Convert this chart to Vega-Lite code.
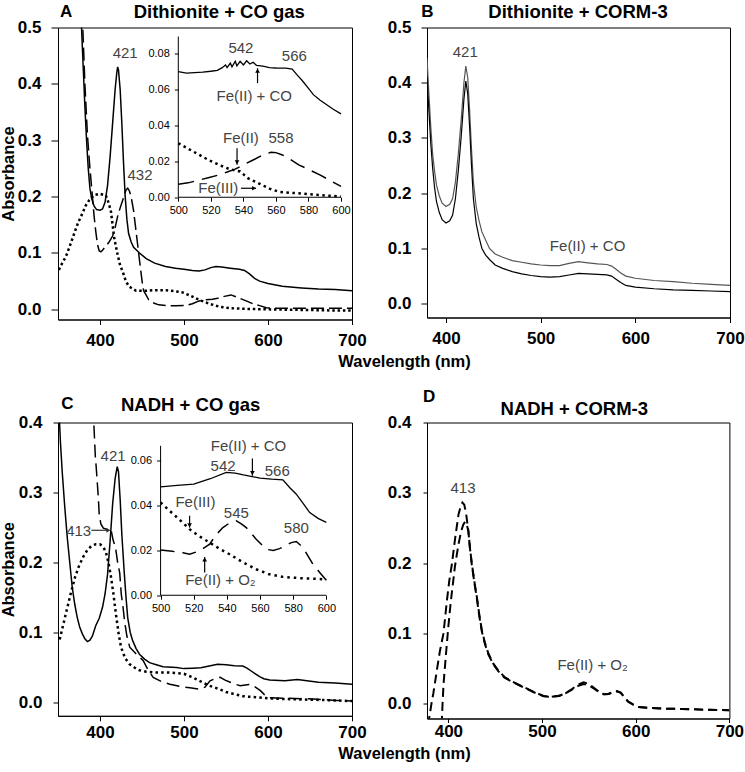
{
"$schema": "https://vega.github.io/schema/vega-lite/v6.json",
"padding": {"left": 0, "top": 1.5, "right": 0, "bottom": 0},
"bounds": "flush",
"columns": 2,
"spacing": {"row": 103, "column": 75},
"config": {
 "font": "Liberation Sans",
 "view": {"stroke": "#000", "strokeWidth": 1},
 "axis": {"grid": false, "domainColor": "#000", "tickColor": "#000", "labelColor": "#000", "titleColor": "#000", "labelFont": "Liberation Sans", "titleFont": "Liberation Sans", "labelFontSize": 17, "labelFontWeight": "bold", "titleFontSize": 16.5, "titleFontWeight": "bold", "tickSize": 6, "labelPadding": 7, "labelFlush": false, "labelOverlap": false}
},
"datasets": {
 "A_main": [
  {"s":"CO","nm":376,"abs":0.56},{"s":"CO","nm":378,"abs":0.5},{"s":"CO","nm":380,"abs":0.43},{"s":"CO","nm":382,"abs":0.36},{"s":"CO","nm":384,"abs":0.3},{"s":"CO","nm":386,"abs":0.25},{"s":"CO","nm":388,"abs":0.215},{"s":"CO","nm":390,"abs":0.197},{"s":"CO","nm":393,"abs":0.183},{"s":"CO","nm":396,"abs":0.177},{"s":"CO","nm":400,"abs":0.176},{"s":"CO","nm":403,"abs":0.178},{"s":"CO","nm":406,"abs":0.19},{"s":"CO","nm":409,"abs":0.22},{"s":"CO","nm":412,"abs":0.27},{"s":"CO","nm":415,"abs":0.33},{"s":"CO","nm":418,"abs":0.39},{"s":"CO","nm":420,"abs":0.42},{"s":"CO","nm":421,"abs":0.43},{"s":"CO","nm":422,"abs":0.425},{"s":"CO","nm":424,"abs":0.39},{"s":"CO","nm":426,"abs":0.33},{"s":"CO","nm":428,"abs":0.26},{"s":"CO","nm":430,"abs":0.2},{"s":"CO","nm":432,"abs":0.16},{"s":"CO","nm":434,"abs":0.135},{"s":"CO","nm":437,"abs":0.12},{"s":"CO","nm":440,"abs":0.11},{"s":"CO","nm":447,"abs":0.1},{"s":"CO","nm":455,"abs":0.09},{"s":"CO","nm":465,"abs":0.082},{"s":"CO","nm":478,"abs":0.076},{"s":"CO","nm":490,"abs":0.073},{"s":"CO","nm":500,"abs":0.071},{"s":"CO","nm":510,"abs":0.069},{"s":"CO","nm":518,"abs":0.068},{"s":"CO","nm":525,"abs":0.07},{"s":"CO","nm":532,"abs":0.074},{"s":"CO","nm":538,"abs":0.076},{"s":"CO","nm":545,"abs":0.075},{"s":"CO","nm":555,"abs":0.073},{"s":"CO","nm":566,"abs":0.071},{"s":"CO","nm":572,"abs":0.069},{"s":"CO","nm":578,"abs":0.063},{"s":"CO","nm":584,"abs":0.055},{"s":"CO","nm":590,"abs":0.05},{"s":"CO","nm":600,"abs":0.046},{"s":"CO","nm":617,"abs":0.041},{"s":"CO","nm":640,"abs":0.038},{"s":"CO","nm":660,"abs":0.036},{"s":"CO","nm":680,"abs":0.035},{"s":"CO","nm":700,"abs":0.033},
  {"s":"FeII","nm":378,"abs":0.56},{"s":"FeII","nm":380,"abs":0.48},{"s":"FeII","nm":382,"abs":0.4},{"s":"FeII","nm":385,"abs":0.31},{"s":"FeII","nm":388,"abs":0.25},{"s":"FeII","nm":391,"abs":0.2},{"s":"FeII","nm":393,"abs":0.165},{"s":"FeII","nm":395,"abs":0.138},{"s":"FeII","nm":397,"abs":0.115},{"s":"FeII","nm":399,"abs":0.104},{"s":"FeII","nm":401,"abs":0.102},{"s":"FeII","nm":403,"abs":0.105},{"s":"FeII","nm":407,"abs":0.112},{"s":"FeII","nm":411,"abs":0.12},{"s":"FeII","nm":415,"abs":0.13},{"s":"FeII","nm":418,"abs":0.145},{"s":"FeII","nm":421,"abs":0.165},{"s":"FeII","nm":424,"abs":0.18},{"s":"FeII","nm":428,"abs":0.198},{"s":"FeII","nm":431,"abs":0.212},{"s":"FeII","nm":433,"abs":0.215},{"s":"FeII","nm":435,"abs":0.21},{"s":"FeII","nm":437,"abs":0.2},{"s":"FeII","nm":440,"abs":0.175},{"s":"FeII","nm":442,"abs":0.15},{"s":"FeII","nm":444,"abs":0.125},{"s":"FeII","nm":446,"abs":0.1},{"s":"FeII","nm":448,"abs":0.075},{"s":"FeII","nm":450.7,"abs":0.043},{"s":"FeII","nm":452,"abs":0.033},{"s":"FeII","nm":454.8,"abs":0.0256},{"s":"FeII","nm":458,"abs":0.017},{"s":"FeII","nm":464.6,"abs":0.0107},{"s":"FeII","nm":470,"abs":0.008},{"s":"FeII","nm":478.6,"abs":0.0066},{"s":"FeII","nm":490,"abs":0.0066},{"s":"FeII","nm":502,"abs":0.0068},{"s":"FeII","nm":510,"abs":0.01},{"s":"FeII","nm":518,"abs":0.015},{"s":"FeII","nm":526,"abs":0.017},{"s":"FeII","nm":534,"abs":0.018},{"s":"FeII","nm":540,"abs":0.0195},{"s":"FeII","nm":548,"abs":0.023},{"s":"FeII","nm":556,"abs":0.0256},{"s":"FeII","nm":564,"abs":0.021},{"s":"FeII","nm":574,"abs":0.015},{"s":"FeII","nm":582,"abs":0.01},{"s":"FeII","nm":590,"abs":0.0066},{"s":"FeII","nm":598,"abs":0.003},{"s":"FeII","nm":606,"abs":0.002},{"s":"FeII","nm":620,"abs":0.002},{"s":"FeII","nm":650,"abs":0.002},{"s":"FeII","nm":680,"abs":0.002},{"s":"FeII","nm":700,"abs":0.002},
  {"s":"FeIII","nm":351,"abs":0.07},{"s":"FeIII","nm":355,"abs":0.082},{"s":"FeIII","nm":359.5,"abs":0.094},{"s":"FeIII","nm":364,"abs":0.112},{"s":"FeIII","nm":369.4,"abs":0.135},{"s":"FeIII","nm":374,"abs":0.154},{"s":"FeIII","nm":379.3,"abs":0.171},{"s":"FeIII","nm":383,"abs":0.184},{"s":"FeIII","nm":387.3,"abs":0.194},{"s":"FeIII","nm":393.2,"abs":0.203},{"s":"FeIII","nm":400,"abs":0.205},{"s":"FeIII","nm":407,"abs":0.202},{"s":"FeIII","nm":410,"abs":0.19},{"s":"FeIII","nm":413,"abs":0.174},{"s":"FeIII","nm":415,"abs":0.15},{"s":"FeIII","nm":417,"abs":0.126},{"s":"FeIII","nm":421,"abs":0.097},{"s":"FeIII","nm":424,"abs":0.078},{"s":"FeIII","nm":427,"abs":0.067},{"s":"FeIII","nm":431,"abs":0.049},{"s":"FeIII","nm":435,"abs":0.04},{"s":"FeIII","nm":443,"abs":0.033},{"s":"FeIII","nm":455,"abs":0.033},{"s":"FeIII","nm":465,"abs":0.034},{"s":"FeIII","nm":478.6,"abs":0.034},{"s":"FeIII","nm":490,"abs":0.032},{"s":"FeIII","nm":498.3,"abs":0.03},{"s":"FeIII","nm":508,"abs":0.024},{"s":"FeIII","nm":518.2,"abs":0.0167},{"s":"FeIII","nm":530,"abs":0.01},{"s":"FeIII","nm":542,"abs":0.0048},{"s":"FeIII","nm":555,"abs":0.002},{"s":"FeIII","nm":577.7,"abs":0.0007},{"s":"FeIII","nm":600,"abs":0.0},{"s":"FeIII","nm":640,"abs":-0.001},{"s":"FeIII","nm":680,"abs":-0.002},{"s":"FeIII","nm":700,"abs":-0.002}
 ],
 "A_inset": [
  {"s":"CO","nm":500,"abs":0.0698},{"s":"CO","nm":505,"abs":0.069},{"s":"CO","nm":510,"abs":0.0692},{"s":"CO","nm":515,"abs":0.0695},{"s":"CO","nm":520,"abs":0.07},{"s":"CO","nm":524,"abs":0.0705},{"s":"CO","nm":527,"abs":0.072},{"s":"CO","nm":529,"abs":0.0735},{"s":"CO","nm":530,"abs":0.072},{"s":"CO","nm":532,"abs":0.0745},{"s":"CO","nm":533,"abs":0.0725},{"s":"CO","nm":535,"abs":0.0755},{"s":"CO","nm":536,"abs":0.073},{"s":"CO","nm":538,"abs":0.0755},{"s":"CO","nm":540,"abs":0.0735},{"s":"CO","nm":542,"abs":0.0758},{"s":"CO","nm":544,"abs":0.074},{"s":"CO","nm":546,"abs":0.075},{"s":"CO","nm":548,"abs":0.0733},{"s":"CO","nm":552,"abs":0.0728},{"s":"CO","nm":556,"abs":0.072},{"s":"CO","nm":560,"abs":0.0718},{"s":"CO","nm":566,"abs":0.0717},{"s":"CO","nm":570,"abs":0.0712},{"s":"CO","nm":573,"abs":0.068},{"s":"CO","nm":576,"abs":0.065},{"s":"CO","nm":580,"abs":0.0605},{"s":"CO","nm":583,"abs":0.057},{"s":"CO","nm":587,"abs":0.054},{"s":"CO","nm":591,"abs":0.0515},{"s":"CO","nm":595,"abs":0.049},{"s":"CO","nm":600,"abs":0.0463},
  {"s":"FeII","nm":500,"abs":0.0072},{"s":"FeII","nm":506,"abs":0.008},{"s":"FeII","nm":513,"abs":0.0096},{"s":"FeII","nm":519,"abs":0.011},{"s":"FeII","nm":525,"abs":0.0124},{"s":"FeII","nm":530,"abs":0.014},{"s":"FeII","nm":535,"abs":0.0156},{"s":"FeII","nm":540,"abs":0.018},{"s":"FeII","nm":546,"abs":0.0207},{"s":"FeII","nm":552,"abs":0.0235},{"s":"FeII","nm":557,"abs":0.025},{"s":"FeII","nm":560,"abs":0.0248},{"s":"FeII","nm":564,"abs":0.0235},{"s":"FeII","nm":569,"abs":0.021},{"s":"FeII","nm":574,"abs":0.018},{"s":"FeII","nm":580,"abs":0.0155},{"s":"FeII","nm":587,"abs":0.0124},{"s":"FeII","nm":594,"abs":0.009},{"s":"FeII","nm":600,"abs":0.006},
  {"s":"FeIII","nm":500,"abs":0.03},{"s":"FeIII","nm":506,"abs":0.027},{"s":"FeIII","nm":513,"abs":0.0235},{"s":"FeIII","nm":519,"abs":0.0205},{"s":"FeIII","nm":525,"abs":0.018},{"s":"FeIII","nm":531,"abs":0.0158},{"s":"FeIII","nm":538,"abs":0.0143},{"s":"FeIII","nm":543,"abs":0.0105},{"s":"FeIII","nm":550,"abs":0.0075},{"s":"FeIII","nm":556,"abs":0.0048},{"s":"FeIII","nm":562,"abs":0.003},{"s":"FeIII","nm":568,"abs":0.0025},{"s":"FeIII","nm":574,"abs":0.0022},{"s":"FeIII","nm":580,"abs":0.0018},{"s":"FeIII","nm":590,"abs":0.001},{"s":"FeIII","nm":600,"abs":0.0004}
 ],
 "A_text": [{"nm":430,"abs":0.455,"label":"421"},{"nm":447.6,"abs":0.239,"label":"432"}],
 "A_itext": [{"nm":538.5,"abs":0.0828,"label":"542"},{"nm":571.3,"abs":0.0787,"label":"566"},{"nm":546.7,"abs":0.056,"label":"Fe(II) + CO"},{"nm":538.5,"abs":0.0328,"label":"Fe(II)"},{"nm":563.1,"abs":0.0328,"label":"558"},{"nm":524.6,"abs":0.005,"label":"Fe(III)"}],
 "A_iarrows": [{"nm":548.7,"nm2":548.7,"abs":0.0634,"abs2":0.0717,"hx":548.7,"hy":0.0703,"head":"triangle-up"},{"nm":536.1,"nm2":536.1,"abs":0.0272,"abs2":0.018,"hx":536.1,"hy":0.0194,"head":"triangle-down"},{"nm":538.5,"nm2":547.8,"abs":0.005,"abs2":0.005,"hx":546.6,"hy":0.005,"head":"triangle-right"}],
 "B": [
  {"s":"up","nm":380,"abs":0.445},{"s":"up","nm":382,"abs":0.38},{"s":"up","nm":384,"abs":0.32},{"s":"up","nm":386,"abs":0.27},{"s":"up","nm":388,"abs":0.24},{"s":"up","nm":390,"abs":0.215},{"s":"up","nm":393,"abs":0.195},{"s":"up","nm":396,"abs":0.182},{"s":"up","nm":400,"abs":0.176},{"s":"up","nm":404,"abs":0.18},{"s":"up","nm":407,"abs":0.19},{"s":"up","nm":410,"abs":0.22},{"s":"up","nm":413,"abs":0.27},{"s":"up","nm":416,"abs":0.33},{"s":"up","nm":419,"abs":0.4},{"s":"up","nm":421,"abs":0.43},{"s":"up","nm":423,"abs":0.41},{"s":"up","nm":425,"abs":0.35},{"s":"up","nm":427,"abs":0.28},{"s":"up","nm":429,"abs":0.22},{"s":"up","nm":432,"abs":0.175},{"s":"up","nm":435,"abs":0.15},{"s":"up","nm":438,"abs":0.13},{"s":"up","nm":442,"abs":0.115},{"s":"up","nm":446,"abs":0.1},{"s":"up","nm":452,"abs":0.09},{"s":"up","nm":460,"abs":0.084},{"s":"up","nm":470,"abs":0.078},{"s":"up","nm":480,"abs":0.075},{"s":"up","nm":490,"abs":0.072},{"s":"up","nm":500,"abs":0.07},{"s":"up","nm":510,"abs":0.069},{"s":"up","nm":520,"abs":0.069},{"s":"up","nm":530,"abs":0.073},{"s":"up","nm":540,"abs":0.076},{"s":"up","nm":550,"abs":0.074},{"s":"up","nm":560,"abs":0.072},{"s":"up","nm":570,"abs":0.071},{"s":"up","nm":575,"abs":0.068},{"s":"up","nm":580,"abs":0.062},{"s":"up","nm":585,"abs":0.055},{"s":"up","nm":590,"abs":0.05},{"s":"up","nm":600,"abs":0.046},{"s":"up","nm":620,"abs":0.042},{"s":"up","nm":640,"abs":0.04},{"s":"up","nm":660,"abs":0.037},{"s":"up","nm":680,"abs":0.035},{"s":"up","nm":700,"abs":0.033},
  {"s":"lo","nm":380,"abs":0.41},{"s":"lo","nm":382,"abs":0.35},{"s":"lo","nm":384,"abs":0.29},{"s":"lo","nm":386,"abs":0.245},{"s":"lo","nm":388,"abs":0.21},{"s":"lo","nm":390,"abs":0.185},{"s":"lo","nm":393,"abs":0.165},{"s":"lo","nm":396,"abs":0.152},{"s":"lo","nm":400,"abs":0.146},{"s":"lo","nm":404,"abs":0.15},{"s":"lo","nm":407,"abs":0.16},{"s":"lo","nm":410,"abs":0.19},{"s":"lo","nm":413,"abs":0.24},{"s":"lo","nm":416,"abs":0.3},{"s":"lo","nm":419,"abs":0.37},{"s":"lo","nm":421,"abs":0.403},{"s":"lo","nm":423,"abs":0.38},{"s":"lo","nm":425,"abs":0.32},{"s":"lo","nm":427,"abs":0.25},{"s":"lo","nm":429,"abs":0.19},{"s":"lo","nm":432,"abs":0.145},{"s":"lo","nm":435,"abs":0.12},{"s":"lo","nm":438,"abs":0.1},{"s":"lo","nm":442,"abs":0.088},{"s":"lo","nm":446,"abs":0.08},{"s":"lo","nm":452,"abs":0.07},{"s":"lo","nm":460,"abs":0.064},{"s":"lo","nm":470,"abs":0.058},{"s":"lo","nm":480,"abs":0.054},{"s":"lo","nm":490,"abs":0.051},{"s":"lo","nm":500,"abs":0.049},{"s":"lo","nm":510,"abs":0.048},{"s":"lo","nm":520,"abs":0.049},{"s":"lo","nm":530,"abs":0.052},{"s":"lo","nm":540,"abs":0.055},{"s":"lo","nm":550,"abs":0.054},{"s":"lo","nm":560,"abs":0.053},{"s":"lo","nm":570,"abs":0.052},{"s":"lo","nm":575,"abs":0.05},{"s":"lo","nm":580,"abs":0.044},{"s":"lo","nm":585,"abs":0.038},{"s":"lo","nm":590,"abs":0.033},{"s":"lo","nm":600,"abs":0.03},{"s":"lo","nm":620,"abs":0.027},{"s":"lo","nm":640,"abs":0.025},{"s":"lo","nm":660,"abs":0.024},{"s":"lo","nm":680,"abs":0.023},{"s":"lo","nm":700,"abs":0.022}
 ],
 "B_text": [{"nm":420.4,"abs":0.455,"label":"421"},{"nm":549.6,"abs":0.104,"label":"Fe(II) + CO"}],
 "C_main": [
  {"s":"CO","nm":351,"abs":0.42},{"s":"CO","nm":353,"abs":0.37},{"s":"CO","nm":355,"abs":0.33},{"s":"CO","nm":358,"abs":0.28},{"s":"CO","nm":361,"abs":0.236},{"s":"CO","nm":364,"abs":0.2},{"s":"CO","nm":367,"abs":0.164},{"s":"CO","nm":370,"abs":0.14},{"s":"CO","nm":373,"abs":0.121},{"s":"CO","nm":376,"abs":0.107},{"s":"CO","nm":379,"abs":0.098},{"s":"CO","nm":382,"abs":0.091},{"s":"CO","nm":385,"abs":0.087},{"s":"CO","nm":388,"abs":0.089},{"s":"CO","nm":391,"abs":0.095},{"s":"CO","nm":395,"abs":0.11},{"s":"CO","nm":399,"abs":0.12},{"s":"CO","nm":403,"abs":0.136},{"s":"CO","nm":406,"abs":0.155},{"s":"CO","nm":409,"abs":0.183},{"s":"CO","nm":412,"abs":0.23},{"s":"CO","nm":415,"abs":0.283},{"s":"CO","nm":418,"abs":0.32},{"s":"CO","nm":420.5,"abs":0.337},{"s":"CO","nm":422,"abs":0.33},{"s":"CO","nm":424,"abs":0.29},{"s":"CO","nm":426,"abs":0.24},{"s":"CO","nm":429,"abs":0.183},{"s":"CO","nm":431,"abs":0.15},{"s":"CO","nm":433,"abs":0.121},{"s":"CO","nm":436,"abs":0.1},{"s":"CO","nm":439,"abs":0.088},{"s":"CO","nm":443,"abs":0.077},{"s":"CO","nm":447,"abs":0.069},{"s":"CO","nm":453,"abs":0.062},{"s":"CO","nm":459,"abs":0.057},{"s":"CO","nm":467,"abs":0.054},{"s":"CO","nm":475,"abs":0.051},{"s":"CO","nm":491,"abs":0.05},{"s":"CO","nm":500,"abs":0.0484},{"s":"CO","nm":510,"abs":0.049},{"s":"CO","nm":520,"abs":0.0496},{"s":"CO","nm":530,"abs":0.052},{"s":"CO","nm":540,"abs":0.0545},{"s":"CO","nm":550,"abs":0.054},{"s":"CO","nm":560,"abs":0.0525},{"s":"CO","nm":570,"abs":0.052},{"s":"CO","nm":575,"abs":0.049},{"s":"CO","nm":580,"abs":0.045},{"s":"CO","nm":585,"abs":0.041},{"s":"CO","nm":590,"abs":0.037},{"s":"CO","nm":595,"abs":0.034},{"s":"CO","nm":602,"abs":0.032},{"s":"CO","nm":620,"abs":0.031},{"s":"CO","nm":635,"abs":0.033},{"s":"CO","nm":660,"abs":0.029},{"s":"CO","nm":680,"abs":0.028},{"s":"CO","nm":700,"abs":0.026},
  {"s":"FeIII","nm":352,"abs":0.09},{"s":"FeIII","nm":356,"abs":0.11},{"s":"FeIII","nm":360,"abs":0.13},{"s":"FeIII","nm":365,"abs":0.155},{"s":"FeIII","nm":370,"abs":0.178},{"s":"FeIII","nm":375,"abs":0.195},{"s":"FeIII","nm":380,"abs":0.208},{"s":"FeIII","nm":385,"abs":0.218},{"s":"FeIII","nm":390,"abs":0.224},{"s":"FeIII","nm":395,"abs":0.226},{"s":"FeIII","nm":400,"abs":0.226},{"s":"FeIII","nm":404,"abs":0.222},{"s":"FeIII","nm":407,"abs":0.215},{"s":"FeIII","nm":410,"abs":0.2},{"s":"FeIII","nm":413,"abs":0.18},{"s":"FeIII","nm":416,"abs":0.155},{"s":"FeIII","nm":419,"abs":0.126},{"s":"FeIII","nm":422,"abs":0.1},{"s":"FeIII","nm":425,"abs":0.079},{"s":"FeIII","nm":430,"abs":0.063},{"s":"FeIII","nm":435,"abs":0.055},{"s":"FeIII","nm":441,"abs":0.05},{"s":"FeIII","nm":447,"abs":0.046},{"s":"FeIII","nm":455,"abs":0.044},{"s":"FeIII","nm":463,"abs":0.043},{"s":"FeIII","nm":479,"abs":0.043},{"s":"FeIII","nm":491,"abs":0.042},{"s":"FeIII","nm":500,"abs":0.041},{"s":"FeIII","nm":510,"abs":0.036},{"s":"FeIII","nm":520,"abs":0.03},{"s":"FeIII","nm":530,"abs":0.024},{"s":"FeIII","nm":540,"abs":0.02},{"s":"FeIII","nm":550,"abs":0.015},{"s":"FeIII","nm":560,"abs":0.012},{"s":"FeIII","nm":570,"abs":0.009},{"s":"FeIII","nm":580,"abs":0.008},{"s":"FeIII","nm":590,"abs":0.007},{"s":"FeIII","nm":600,"abs":0.006},{"s":"FeIII","nm":620,"abs":0.005},{"s":"FeIII","nm":650,"abs":0.004},{"s":"FeIII","nm":680,"abs":0.003},{"s":"FeIII","nm":700,"abs":0.002},
  {"s":"O2","nm":391,"abs":0.45},{"s":"O2","nm":392.6,"abs":0.4},{"s":"O2","nm":394.5,"abs":0.35},{"s":"O2","nm":395.5,"abs":0.336},{"s":"O2","nm":397,"abs":0.31},{"s":"O2","nm":398,"abs":0.293},{"s":"O2","nm":399,"abs":0.27},{"s":"O2","nm":401,"abs":0.255},{"s":"O2","nm":404,"abs":0.249},{"s":"O2","nm":409,"abs":0.247},{"s":"O2","nm":413,"abs":0.248},{"s":"O2","nm":415.6,"abs":0.232},{"s":"O2","nm":418.4,"abs":0.222},{"s":"O2","nm":421,"abs":0.2},{"s":"O2","nm":423.5,"abs":0.185},{"s":"O2","nm":425.3,"abs":0.155},{"s":"O2","nm":427.5,"abs":0.135},{"s":"O2","nm":429.4,"abs":0.115},{"s":"O2","nm":432,"abs":0.095},{"s":"O2","nm":435.4,"abs":0.079},{"s":"O2","nm":443.4,"abs":0.069},{"s":"O2","nm":451.3,"abs":0.06},{"s":"O2","nm":457,"abs":0.047},{"s":"O2","nm":463.3,"abs":0.036},{"s":"O2","nm":473,"abs":0.03},{"s":"O2","nm":483.2,"abs":0.026},{"s":"O2","nm":495,"abs":0.023},{"s":"O2","nm":507,"abs":0.021},{"s":"O2","nm":519,"abs":0.019},{"s":"O2","nm":525,"abs":0.022},{"s":"O2","nm":531,"abs":0.031},{"s":"O2","nm":537,"abs":0.034},{"s":"O2","nm":543,"abs":0.036},{"s":"O2","nm":549,"abs":0.032},{"s":"O2","nm":555,"abs":0.029},{"s":"O2","nm":561,"abs":0.026},{"s":"O2","nm":567,"abs":0.024},{"s":"O2","nm":573,"abs":0.025},{"s":"O2","nm":579,"abs":0.026},{"s":"O2","nm":585,"abs":0.022},{"s":"O2","nm":591,"abs":0.017},{"s":"O2","nm":596,"abs":0.011},{"s":"O2","nm":601,"abs":0.007},{"s":"O2","nm":622,"abs":0.006},{"s":"O2","nm":654,"abs":0.005},{"s":"O2","nm":680,"abs":0.003},{"s":"O2","nm":700,"abs":0.002}
 ],
 "C_inset": [
  {"s":"CO","nm":500,"abs":0.0484},{"s":"CO","nm":510,"abs":0.049},{"s":"CO","nm":520,"abs":0.0496},{"s":"CO","nm":530,"abs":0.052},{"s":"CO","nm":539.6,"abs":0.0548},{"s":"CO","nm":545,"abs":0.0545},{"s":"CO","nm":550,"abs":0.0537},{"s":"CO","nm":560,"abs":0.0523},{"s":"CO","nm":567,"abs":0.0518},{"s":"CO","nm":573.8,"abs":0.0515},{"s":"CO","nm":578,"abs":0.048},{"s":"CO","nm":581.9,"abs":0.0451},{"s":"CO","nm":586,"abs":0.041},{"s":"CO","nm":590,"abs":0.0369},{"s":"CO","nm":595,"abs":0.0343},{"s":"CO","nm":600,"abs":0.0325},
  {"s":"FeIII","nm":500,"abs":0.0414},{"s":"FeIII","nm":505,"abs":0.038},{"s":"FeIII","nm":511,"abs":0.034},{"s":"FeIII","nm":517.5,"abs":0.0295},{"s":"FeIII","nm":523,"abs":0.0265},{"s":"FeIII","nm":529.6,"abs":0.0235},{"s":"FeIII","nm":535,"abs":0.021},{"s":"FeIII","nm":541.6,"abs":0.0183},{"s":"FeIII","nm":549,"abs":0.015},{"s":"FeIII","nm":557.7,"abs":0.0116},{"s":"FeIII","nm":565,"abs":0.0095},{"s":"FeIII","nm":573.8,"abs":0.0082},{"s":"FeIII","nm":585,"abs":0.0076},{"s":"FeIII","nm":600,"abs":0.0071},
  {"s":"O2","nm":500,"abs":0.0202},{"s":"O2","nm":507,"abs":0.0196},{"s":"O2","nm":513.5,"abs":0.019},{"s":"O2","nm":517.5,"abs":0.0183},{"s":"O2","nm":523.5,"abs":0.0198},{"s":"O2","nm":529.6,"abs":0.0228},{"s":"O2","nm":533.5,"abs":0.027},{"s":"O2","nm":537.6,"abs":0.0302},{"s":"O2","nm":541.5,"abs":0.0322},{"s":"O2","nm":545.7,"abs":0.0332},{"s":"O2","nm":548.5,"abs":0.032},{"s":"O2","nm":551.7,"abs":0.0302},{"s":"O2","nm":557.7,"abs":0.025},{"s":"O2","nm":563.8,"abs":0.0205},{"s":"O2","nm":568,"abs":0.02},{"s":"O2","nm":571.8,"abs":0.0208},{"s":"O2","nm":575.5,"abs":0.0222},{"s":"O2","nm":578.9,"abs":0.0235},{"s":"O2","nm":581.9,"abs":0.024},{"s":"O2","nm":585.9,"abs":0.0213},{"s":"O2","nm":589,"abs":0.0175},{"s":"O2","nm":592,"abs":0.0138},{"s":"O2","nm":596,"abs":0.0102},{"s":"O2","nm":600,"abs":0.0067}
 ],
 "C_text": [{"nm":415.6,"abs":0.352,"label":"421"},{"nm":374.6,"abs":0.245,"label":"413"}],
 "C_arrows": [{"nm":389.7,"nm2":411,"abs":0.246,"abs2":0.246,"hx":410,"hy":0.246,"head":"triangle-right"}],
 "C_itext": [{"nm":553.1,"abs":0.0667,"label":"Fe(II) + CO"},{"nm":537.7,"abs":0.0578,"label":"542"},{"nm":570.4,"abs":0.0555,"label":"566"},{"nm":521,"abs":0.0414,"label":"Fe(III)"},{"nm":545.7,"abs":0.0369,"label":"545"},{"nm":581.9,"abs":0.0302,"label":"580"},{"nm":536.1,"abs":0.0067,"label":"Fe(II) + O₂"}],
 "C_iarrows": [{"nm":555.4,"nm2":555.4,"abs":0.061,"abs2":0.0533,"hx":555.4,"hy":0.0545,"head":"triangle-down"},{"nm":517.5,"nm2":517.5,"abs":0.0355,"abs2":0.0302,"hx":517.5,"hy":0.0312,"head":"triangle-down"},{"nm":526.6,"nm2":526.6,"abs":0.0101,"abs2":0.0171,"hx":526.6,"hy":0.016,"head":"triangle-up"}],
 "D": [
  {"s":"d1","nm":378,"abs":-0.03},{"s":"d1","nm":380,"abs":-0.017},{"s":"d1","nm":382.3,"abs":0.003},{"s":"d1","nm":384,"abs":0.015},{"s":"d1","nm":385.9,"abs":0.0316},{"s":"d1","nm":388,"abs":0.05},{"s":"d1","nm":391,"abs":0.075},{"s":"d1","nm":394.8,"abs":0.1},{"s":"d1","nm":398.3,"abs":0.145},{"s":"d1","nm":401,"abs":0.175},{"s":"d1","nm":403.7,"abs":0.198},{"s":"d1","nm":407.2,"abs":0.235},{"s":"d1","nm":410.8,"abs":0.269},{"s":"d1","nm":413,"abs":0.28},{"s":"d1","nm":415,"abs":0.286},{"s":"d1","nm":417,"abs":0.283},{"s":"d1","nm":419,"abs":0.27},{"s":"d1","nm":421.4,"abs":0.245},{"s":"d1","nm":423,"abs":0.222},{"s":"d1","nm":425,"abs":0.198},{"s":"d1","nm":428,"abs":0.17},{"s":"d1","nm":430.4,"abs":0.15},{"s":"d1","nm":433,"abs":0.125},{"s":"d1","nm":435.7,"abs":0.103},{"s":"d1","nm":439,"abs":0.085},{"s":"d1","nm":442.8,"abs":0.07},{"s":"d1","nm":448,"abs":0.056},{"s":"d1","nm":453.5,"abs":0.046},{"s":"d1","nm":460,"abs":0.037},{"s":"d1","nm":467.7,"abs":0.0316},{"s":"d1","nm":478.4,"abs":0.0245},{"s":"d1","nm":490,"abs":0.017},{"s":"d1","nm":501.7,"abs":0.0105},{"s":"d1","nm":510,"abs":0.0098},{"s":"d1","nm":518,"abs":0.011},{"s":"d1","nm":525,"abs":0.015},{"s":"d1","nm":532,"abs":0.021},{"s":"d1","nm":538,"abs":0.027},{"s":"d1","nm":544.4,"abs":0.0305},{"s":"d1","nm":550,"abs":0.028},{"s":"d1","nm":556,"abs":0.022},{"s":"d1","nm":562,"abs":0.016},{"s":"d1","nm":566,"abs":0.0135},{"s":"d1","nm":571,"abs":0.014},{"s":"d1","nm":576,"abs":0.017},{"s":"d1","nm":580,"abs":0.018},{"s":"d1","nm":584,"abs":0.016},{"s":"d1","nm":588,"abs":0.009},{"s":"d1","nm":592,"abs":0.003},{"s":"d1","nm":597,"abs":-0.001},{"s":"d1","nm":602.8,"abs":-0.0045},{"s":"d1","nm":615,"abs":-0.006},{"s":"d1","nm":630,"abs":-0.007},{"s":"d1","nm":650,"abs":-0.0075},{"s":"d1","nm":675,"abs":-0.0085},{"s":"d1","nm":700,"abs":-0.0092},
  {"s":"d2","nm":392.8,"abs":-0.03},{"s":"d2","nm":393.6,"abs":-0.006},{"s":"d2","nm":394.8,"abs":0.027},{"s":"d2","nm":396.5,"abs":0.055},{"s":"d2","nm":398.3,"abs":0.084},{"s":"d2","nm":400,"abs":0.11},{"s":"d2","nm":401.9,"abs":0.136},{"s":"d2","nm":403.7,"abs":0.158},{"s":"d2","nm":405.5,"abs":0.178},{"s":"d2","nm":407,"abs":0.195},{"s":"d2","nm":409,"abs":0.212},{"s":"d2","nm":411,"abs":0.228},{"s":"d2","nm":413.6,"abs":0.245},{"s":"d2","nm":416,"abs":0.255},{"s":"d2","nm":418,"abs":0.259},{"s":"d2","nm":420,"abs":0.253},{"s":"d2","nm":421.4,"abs":0.245},{"s":"d2","nm":423,"abs":0.222},{"s":"d2","nm":425,"abs":0.2},{"s":"d2","nm":428,"abs":0.172},{"s":"d2","nm":430.4,"abs":0.152},{"s":"d2","nm":433,"abs":0.127},{"s":"d2","nm":435.7,"abs":0.105},{"s":"d2","nm":439,"abs":0.087},{"s":"d2","nm":442.8,"abs":0.071},{"s":"d2","nm":448,"abs":0.057},{"s":"d2","nm":453.5,"abs":0.047},{"s":"d2","nm":460,"abs":0.038},{"s":"d2","nm":467.7,"abs":0.032},{"s":"d2","nm":478.4,"abs":0.025},{"s":"d2","nm":490,"abs":0.0175},{"s":"d2","nm":501.7,"abs":0.011},{"s":"d2","nm":510,"abs":0.01},{"s":"d2","nm":518,"abs":0.0112},{"s":"d2","nm":525,"abs":0.0148},{"s":"d2","nm":532,"abs":0.02},{"s":"d2","nm":538,"abs":0.025},{"s":"d2","nm":544.4,"abs":0.028},{"s":"d2","nm":550,"abs":0.026},{"s":"d2","nm":556,"abs":0.021},{"s":"d2","nm":562,"abs":0.0155},{"s":"d2","nm":566,"abs":0.0135},{"s":"d2","nm":571,"abs":0.0138},{"s":"d2","nm":576,"abs":0.0165},{"s":"d2","nm":580,"abs":0.0175},{"s":"d2","nm":584,"abs":0.0155},{"s":"d2","nm":588,"abs":0.009},{"s":"d2","nm":592,"abs":0.003},{"s":"d2","nm":597,"abs":-0.001},{"s":"d2","nm":602.8,"abs":-0.0045},{"s":"d2","nm":615,"abs":-0.006},{"s":"d2","nm":630,"abs":-0.007},{"s":"d2","nm":650,"abs":-0.0075},{"s":"d2","nm":675,"abs":-0.0085},{"s":"d2","nm":700,"abs":-0.0092}
 ],
 "D_text": [{"nm":415.6,"abs":0.3075,"label":"413"},{"nm":554,"abs":0.055,"label":"Fe(II) + O₂"}]
},
"concat": [
  {"width": 294, "height": 292,
   "resolve": {"scale": {"x": "independent", "y": "independent"}, "axis": {"x": "independent", "y": "independent"}},
   "layer": [
    {"layer": [
     {"data": {"name": "A_main"}, "transform": [{"filter": "datum.s === 'CO'"}], "mark": {"type": "line", "clip": true, "color": "#000", "strokeWidth": 1.5},
      "encoding": {"x": {"field": "nm", "type": "quantitative", "scale": {"domain": [350, 700], "nice": false, "zero": false}, "axis": {"values": [400, 500, 600, 700], "tickSize": 5, "labelPadding": 8, "title": "Wavelength (nm)", "titleX": 346, "titleY": 42, "titleAlign": "center", "titleBaseline": "middle"}},
                   "y": {"field": "abs", "type": "quantitative", "scale": {"domain": [-0.018, 0.5], "nice": false, "zero": false}, "axis": {"values": [0, 0.1, 0.2, 0.3, 0.4, 0.5], "format": ".1f", "tickSize": 7, "labelPadding": 10, "title": "Absorbance", "titleX": -49.5, "titleY": 146, "titleAlign": "center", "titleBaseline": "middle", "titleAngle": 270}}}},
     {"data": {"name": "A_main"}, "transform": [{"filter": "datum.s === 'FeII'"}], "mark": {"type": "line", "clip": true, "color": "#000", "strokeWidth": 1.5, "strokeDash": [13, 5]},
      "encoding": {"x": {"field": "nm", "type": "quantitative", "scale": {"domain": [350, 700], "nice": false, "zero": false}}, "y": {"field": "abs", "type": "quantitative", "scale": {"domain": [-0.018, 0.5], "nice": false, "zero": false}}}},
     {"data": {"name": "A_main"}, "transform": [{"filter": "datum.s === 'FeIII'"}], "mark": {"type": "line", "clip": true, "color": "#000", "strokeWidth": 2.5, "strokeDash": [2.5, 2.8]},
      "encoding": {"x": {"field": "nm", "type": "quantitative", "scale": {"domain": [350, 700], "nice": false, "zero": false}}, "y": {"field": "abs", "type": "quantitative", "scale": {"domain": [-0.018, 0.5], "nice": false, "zero": false}}}},
     {"data": {"name": "A_text"}, "mark": {"type": "text", "fontSize": 15, "color": "#444", "align": "center", "baseline": "middle"},
      "encoding": {"x": {"field": "nm", "type": "quantitative", "scale": {"domain": [350, 700], "nice": false, "zero": false}}, "y": {"field": "abs", "type": "quantitative", "scale": {"domain": [-0.018, 0.5], "nice": false, "zero": false}}, "text": {"field": "label", "type": "nominal"}}},
     {"data": {"values": [{"nm": 350, "abs": 0.5, "label": "A"}]}, "mark": {"type": "text", "fontSize": 17, "fontWeight": "bold", "color": "#000", "align": "left", "baseline": "middle", "dx": 2, "dy": -16},
      "encoding": {"x": {"field": "nm", "type": "quantitative", "scale": {"domain": [350, 700], "nice": false, "zero": false}}, "y": {"field": "abs", "type": "quantitative", "scale": {"domain": [-0.018, 0.5], "nice": false, "zero": false}}, "text": {"field": "label", "type": "nominal"}}},
     {"data": {"values": [{"nm": 542, "abs": 0.5, "label": "Dithionite + CO gas"}]}, "mark": {"type": "text", "fontSize": 18.5, "fontWeight": "bold", "color": "#000", "align": "center", "baseline": "middle", "dy": -16},
      "encoding": {"x": {"field": "nm", "type": "quantitative", "scale": {"domain": [350, 700], "nice": false, "zero": false}}, "y": {"field": "abs", "type": "quantitative", "scale": {"domain": [-0.018, 0.5], "nice": false, "zero": false}}, "text": {"field": "label", "type": "nominal"}}}
    ]},
    {"layer": [
     {"data": {"name": "A_inset"}, "transform": [{"filter": "datum.s === 'CO'"}], "mark": {"type": "line", "color": "#000", "strokeWidth": 1.3},
      "encoding": {"x": {"field": "nm", "type": "quantitative", "scale": {"domain": [426.06, 606.76], "nice": false, "zero": false}, "axis": {"orient": "bottom", "offset": -122.3, "values": [500, 520, 540, 560, 580, 600], "domain": false, "title": null, "labelFontSize": 11, "labelFontWeight": "normal", "tickSize": 4, "labelPadding": 3}},
                   "y": {"field": "abs", "type": "quantitative", "scale": {"domain": [-0.0679, 0.0943], "nice": false, "zero": false}, "axis": {"orient": "left", "offset": -120.3, "values": [0, 0.02, 0.04, 0.06, 0.08], "format": ".2f", "domain": false, "title": null, "labelFontSize": 11, "labelFontWeight": "normal", "tickSize": 4, "labelPadding": 5}}}},
     {"data": {"name": "A_inset"}, "transform": [{"filter": "datum.s === 'FeII'"}], "mark": {"type": "line", "color": "#000", "strokeWidth": 1.5, "strokeDash": [16, 8]},
      "encoding": {"x": {"field": "nm", "type": "quantitative", "scale": {"domain": [426.06, 606.76], "nice": false, "zero": false}}, "y": {"field": "abs", "type": "quantitative", "scale": {"domain": [-0.0679, 0.0943], "nice": false, "zero": false}}}},
     {"data": {"name": "A_inset"}, "transform": [{"filter": "datum.s === 'FeIII'"}], "mark": {"type": "line", "color": "#000", "strokeWidth": 2.5, "strokeDash": [2.5, 3.5]},
      "encoding": {"x": {"field": "nm", "type": "quantitative", "scale": {"domain": [426.06, 606.76], "nice": false, "zero": false}}, "y": {"field": "abs", "type": "quantitative", "scale": {"domain": [-0.0679, 0.0943], "nice": false, "zero": false}}}},
     {"data": {"values": [{"nm": 500, "nm2": 600, "abs": 0, "abs2": 0}, {"nm": 500, "nm2": 500, "abs": 0, "abs2": 0.0893}]}, "mark": {"type": "rule", "color": "#000", "strokeWidth": 1},
      "encoding": {"x": {"field": "nm", "type": "quantitative", "scale": {"domain": [426.06, 606.76], "nice": false, "zero": false}}, "x2": {"field": "nm2"}, "y": {"field": "abs", "type": "quantitative", "scale": {"domain": [-0.0679, 0.0943], "nice": false, "zero": false}}, "y2": {"field": "abs2"}}},
     {"data": {"name": "A_itext"}, "mark": {"type": "text", "fontSize": 15, "color": "#444", "align": "center", "baseline": "middle"},
      "encoding": {"x": {"field": "nm", "type": "quantitative", "scale": {"domain": [426.06, 606.76], "nice": false, "zero": false}}, "y": {"field": "abs", "type": "quantitative", "scale": {"domain": [-0.0679, 0.0943], "nice": false, "zero": false}}, "text": {"field": "label", "type": "nominal"}}},
     {"data": {"name": "A_iarrows"}, "mark": {"type": "rule", "color": "#000", "strokeWidth": 1.2},
      "encoding": {"x": {"field": "nm", "type": "quantitative", "scale": {"domain": [426.06, 606.76], "nice": false, "zero": false}}, "x2": {"field": "nm2"}, "y": {"field": "abs", "type": "quantitative", "scale": {"domain": [-0.0679, 0.0943], "nice": false, "zero": false}}, "y2": {"field": "abs2"}}},
     {"data": {"name": "A_iarrows"}, "mark": {"type": "point", "filled": true, "color": "#000", "size": 22, "opacity": 1},
      "encoding": {"x": {"field": "hx", "type": "quantitative", "scale": {"domain": [426.06, 606.76], "nice": false, "zero": false}}, "y": {"field": "hy", "type": "quantitative", "scale": {"domain": [-0.0679, 0.0943], "nice": false, "zero": false}}, "shape": {"field": "head", "type": "nominal", "scale": null}}}
    ]}
   ]},
  {"width": 303, "height": 290,
   "layer": [
    {"data": {"name": "B"}, "transform": [{"filter": "datum.s === 'up'"}], "mark": {"type": "line", "clip": true, "color": "#555", "strokeWidth": 1.2},
     "encoding": {"x": {"field": "nm", "type": "quantitative", "scale": {"domain": [380, 700], "nice": false, "zero": false}, "axis": {"values": [400, 500, 600, 700], "tickSize": 5, "labelPadding": 8, "title": null}},
                  "y": {"field": "abs", "type": "quantitative", "scale": {"domain": [-0.025, 0.5], "nice": false, "zero": false}, "axis": {"values": [0, 0.1, 0.2, 0.3, 0.4, 0.5], "format": ".1f", "tickSize": 6, "labelPadding": 10, "title": null}}}},
    {"data": {"name": "B"}, "transform": [{"filter": "datum.s === 'lo'"}], "mark": {"type": "line", "clip": true, "color": "#000", "strokeWidth": 1.2},
     "encoding": {"x": {"field": "nm", "type": "quantitative", "scale": {"domain": [380, 700], "nice": false, "zero": false}}, "y": {"field": "abs", "type": "quantitative", "scale": {"domain": [-0.025, 0.5], "nice": false, "zero": false}}}},
    {"data": {"name": "B_text"}, "mark": {"type": "text", "fontSize": 15, "color": "#444", "align": "center", "baseline": "middle"},
     "encoding": {"x": {"field": "nm", "type": "quantitative", "scale": {"domain": [380, 700], "nice": false, "zero": false}}, "y": {"field": "abs", "type": "quantitative", "scale": {"domain": [-0.025, 0.5], "nice": false, "zero": false}}, "text": {"field": "label", "type": "nominal"}}},
    {"data": {"values": [{"nm": 380, "abs": 0.5, "label": "B"}]}, "mark": {"type": "text", "fontSize": 17, "fontWeight": "bold", "color": "#000", "align": "left", "baseline": "middle", "dx": -5.7, "dy": -16},
     "encoding": {"x": {"field": "nm", "type": "quantitative", "scale": {"domain": [380, 700], "nice": false, "zero": false}}, "y": {"field": "abs", "type": "quantitative", "scale": {"domain": [-0.025, 0.5], "nice": false, "zero": false}}, "text": {"field": "label", "type": "nominal"}}},
    {"data": {"values": [{"nm": 539.5, "abs": 0.5, "label": "Dithionite + CORM-3"}]}, "mark": {"type": "text", "fontSize": 18.5, "fontWeight": "bold", "color": "#000", "align": "center", "baseline": "middle", "dy": -15.2},
     "encoding": {"x": {"field": "nm", "type": "quantitative", "scale": {"domain": [380, 700], "nice": false, "zero": false}}, "y": {"field": "abs", "type": "quantitative", "scale": {"domain": [-0.025, 0.5], "nice": false, "zero": false}}, "text": {"field": "label", "type": "nominal"}}}
   ]},
  {"width": 294, "height": 293.3,
   "resolve": {"scale": {"x": "independent", "y": "independent"}, "axis": {"x": "independent", "y": "independent"}},
   "layer": [
    {"layer": [
     {"data": {"name": "C_main"}, "transform": [{"filter": "datum.s === 'CO'"}], "mark": {"type": "line", "clip": true, "color": "#000", "strokeWidth": 1.5},
      "encoding": {"x": {"field": "nm", "type": "quantitative", "scale": {"domain": [350, 700], "nice": false, "zero": false}, "axis": {"values": [400, 500, 600, 700], "tickSize": 5, "labelPadding": 4, "title": "Wavelength (nm)", "titleX": 346, "titleY": 38, "titleAlign": "center", "titleBaseline": "middle"}},
                   "y": {"field": "abs", "type": "quantitative", "scale": {"domain": [-0.019, 0.4], "nice": false, "zero": false}, "axis": {"values": [0, 0.1, 0.2, 0.3, 0.4], "format": ".1f", "tickSize": 5, "labelPadding": 11, "title": "Absorbance", "titleX": -49.5, "titleY": 146.7, "titleAlign": "center", "titleBaseline": "middle", "titleAngle": 270}}}},
     {"data": {"name": "C_main"}, "transform": [{"filter": "datum.s === 'O2'"}], "mark": {"type": "line", "clip": true, "color": "#000", "strokeWidth": 1.5, "strokeDash": [13, 6]},
      "encoding": {"x": {"field": "nm", "type": "quantitative", "scale": {"domain": [350, 700], "nice": false, "zero": false}}, "y": {"field": "abs", "type": "quantitative", "scale": {"domain": [-0.019, 0.4], "nice": false, "zero": false}}}},
     {"data": {"name": "C_main"}, "transform": [{"filter": "datum.s === 'FeIII'"}], "mark": {"type": "line", "clip": true, "color": "#000", "strokeWidth": 2.5, "strokeDash": [2.5, 3.2]},
      "encoding": {"x": {"field": "nm", "type": "quantitative", "scale": {"domain": [350, 700], "nice": false, "zero": false}}, "y": {"field": "abs", "type": "quantitative", "scale": {"domain": [-0.019, 0.4], "nice": false, "zero": false}}}},
     {"data": {"name": "C_text"}, "mark": {"type": "text", "fontSize": 15, "color": "#444", "align": "center", "baseline": "middle"},
      "encoding": {"x": {"field": "nm", "type": "quantitative", "scale": {"domain": [350, 700], "nice": false, "zero": false}}, "y": {"field": "abs", "type": "quantitative", "scale": {"domain": [-0.019, 0.4], "nice": false, "zero": false}}, "text": {"field": "label", "type": "nominal"}}},
     {"data": {"name": "C_arrows"}, "mark": {"type": "rule", "color": "#333", "strokeWidth": 1.2},
      "encoding": {"x": {"field": "nm", "type": "quantitative", "scale": {"domain": [350, 700], "nice": false, "zero": false}}, "x2": {"field": "nm2"}, "y": {"field": "abs", "type": "quantitative", "scale": {"domain": [-0.019, 0.4], "nice": false, "zero": false}}, "y2": {"field": "abs2"}}},
     {"data": {"name": "C_arrows"}, "mark": {"type": "point", "filled": true, "color": "#333", "size": 22, "opacity": 1},
      "encoding": {"x": {"field": "hx", "type": "quantitative", "scale": {"domain": [350, 700], "nice": false, "zero": false}}, "y": {"field": "hy", "type": "quantitative", "scale": {"domain": [-0.019, 0.4], "nice": false, "zero": false}}, "shape": {"field": "head", "type": "nominal", "scale": null}}},
     {"data": {"values": [{"nm": 350, "abs": 0.4, "label": "C"}]}, "mark": {"type": "text", "fontSize": 17, "fontWeight": "bold", "color": "#000", "align": "left", "baseline": "middle", "dx": 3.3, "dy": -18.3},
      "encoding": {"x": {"field": "nm", "type": "quantitative", "scale": {"domain": [350, 700], "nice": false, "zero": false}}, "y": {"field": "abs", "type": "quantitative", "scale": {"domain": [-0.019, 0.4], "nice": false, "zero": false}}, "text": {"field": "label", "type": "nominal"}}},
     {"data": {"values": [{"nm": 507.9, "abs": 0.4, "label": "NADH + CO gas"}]}, "mark": {"type": "text", "fontSize": 18.5, "fontWeight": "bold", "color": "#000", "align": "center", "baseline": "middle", "dy": -18},
      "encoding": {"x": {"field": "nm", "type": "quantitative", "scale": {"domain": [350, 700], "nice": false, "zero": false}}, "y": {"field": "abs", "type": "quantitative", "scale": {"domain": [-0.019, 0.4], "nice": false, "zero": false}}, "text": {"field": "label", "type": "nominal"}}}
    ]},
    {"layer": [
     {"data": {"name": "C_inset"}, "transform": [{"filter": "datum.s === 'CO'"}], "mark": {"type": "line", "color": "#000", "strokeWidth": 1.3},
      "encoding": {"x": {"field": "nm", "type": "quantitative", "scale": {"domain": [438.1, 615.5], "nice": false, "zero": false}, "axis": {"orient": "bottom", "offset": -120.6, "values": [500, 520, 540, 560, 580, 600], "domain": false, "title": null, "labelFontSize": 11, "labelFontWeight": "normal", "tickSize": 4, "labelPadding": 3}},
                   "y": {"field": "abs", "type": "quantitative", "scale": {"domain": [-0.0538, 0.0771], "nice": false, "zero": false}, "axis": {"orient": "left", "offset": -102.6, "values": [0, 0.02, 0.04, 0.06], "format": ".2f", "domain": false, "title": null, "labelFontSize": 11, "labelFontWeight": "normal", "tickSize": 4, "labelPadding": 5}}}},
     {"data": {"name": "C_inset"}, "transform": [{"filter": "datum.s === 'O2'"}], "mark": {"type": "line", "color": "#000", "strokeWidth": 1.5, "strokeDash": [14, 8]},
      "encoding": {"x": {"field": "nm", "type": "quantitative", "scale": {"domain": [438.1, 615.5], "nice": false, "zero": false}}, "y": {"field": "abs", "type": "quantitative", "scale": {"domain": [-0.0538, 0.0771], "nice": false, "zero": false}}}},
     {"data": {"name": "C_inset"}, "transform": [{"filter": "datum.s === 'FeIII'"}], "mark": {"type": "line", "color": "#000", "strokeWidth": 2.5, "strokeDash": [2.5, 4]},
      "encoding": {"x": {"field": "nm", "type": "quantitative", "scale": {"domain": [438.1, 615.5], "nice": false, "zero": false}}, "y": {"field": "abs", "type": "quantitative", "scale": {"domain": [-0.0538, 0.0771], "nice": false, "zero": false}}}},
     {"data": {"values": [{"nm": 500, "nm2": 600, "abs": 0, "abs2": 0}, {"nm": 500, "nm2": 500, "abs": 0, "abs2": 0.0667}]}, "mark": {"type": "rule", "color": "#000", "strokeWidth": 1},
      "encoding": {"x": {"field": "nm", "type": "quantitative", "scale": {"domain": [438.1, 615.5], "nice": false, "zero": false}}, "x2": {"field": "nm2"}, "y": {"field": "abs", "type": "quantitative", "scale": {"domain": [-0.0538, 0.0771], "nice": false, "zero": false}}, "y2": {"field": "abs2"}}},
     {"data": {"name": "C_itext"}, "mark": {"type": "text", "fontSize": 15, "color": "#444", "align": "center", "baseline": "middle"},
      "encoding": {"x": {"field": "nm", "type": "quantitative", "scale": {"domain": [438.1, 615.5], "nice": false, "zero": false}}, "y": {"field": "abs", "type": "quantitative", "scale": {"domain": [-0.0538, 0.0771], "nice": false, "zero": false}}, "text": {"field": "label", "type": "nominal"}}},
     {"data": {"name": "C_iarrows"}, "mark": {"type": "rule", "color": "#000", "strokeWidth": 1.2},
      "encoding": {"x": {"field": "nm", "type": "quantitative", "scale": {"domain": [438.1, 615.5], "nice": false, "zero": false}}, "x2": {"field": "nm2"}, "y": {"field": "abs", "type": "quantitative", "scale": {"domain": [-0.0538, 0.0771], "nice": false, "zero": false}}, "y2": {"field": "abs2"}}},
     {"data": {"name": "C_iarrows"}, "mark": {"type": "point", "filled": true, "color": "#000", "size": 22, "opacity": 1},
      "encoding": {"x": {"field": "hx", "type": "quantitative", "scale": {"domain": [438.1, 615.5], "nice": false, "zero": false}}, "y": {"field": "hy", "type": "quantitative", "scale": {"domain": [-0.0538, 0.0771], "nice": false, "zero": false}}, "shape": {"field": "head", "type": "nominal", "scale": null}}}
    ]}
   ]},
  {"width": 302.4, "height": 296,
   "layer": [
    {"data": {"name": "D"}, "transform": [{"filter": "datum.s === 'd1'"}], "mark": {"type": "line", "clip": true, "color": "#000", "strokeWidth": 2, "strokeDash": [9, 5]},
     "encoding": {"x": {"field": "nm", "type": "quantitative", "scale": {"domain": [377.2, 700], "nice": false, "zero": false}, "axis": {"values": [400, 500, 600, 700], "tickSize": 4, "labelPadding": 1, "title": null}},
                  "y": {"field": "abs", "type": "quantitative", "scale": {"domain": [-0.021, 0.4], "nice": false, "zero": false}, "axis": {"values": [0, 0.1, 0.2, 0.3, 0.4], "format": ".1f", "tickSize": 4, "labelPadding": 12, "title": null}}}},
    {"data": {"name": "D"}, "transform": [{"filter": "datum.s === 'd2'"}], "mark": {"type": "line", "clip": true, "color": "#000", "strokeWidth": 2, "strokeDash": [9, 5]},
     "encoding": {"x": {"field": "nm", "type": "quantitative", "scale": {"domain": [377.2, 700], "nice": false, "zero": false}}, "y": {"field": "abs", "type": "quantitative", "scale": {"domain": [-0.021, 0.4], "nice": false, "zero": false}}}},
    {"data": {"name": "D_text"}, "mark": {"type": "text", "fontSize": 15, "color": "#444", "align": "center", "baseline": "middle"},
     "encoding": {"x": {"field": "nm", "type": "quantitative", "scale": {"domain": [377.2, 700], "nice": false, "zero": false}}, "y": {"field": "abs", "type": "quantitative", "scale": {"domain": [-0.021, 0.4], "nice": false, "zero": false}}, "text": {"field": "label", "type": "nominal"}}},
    {"data": {"values": [{"nm": 377.2, "abs": 0.4, "label": "D"}]}, "mark": {"type": "text", "fontSize": 17, "fontWeight": "bold", "color": "#000", "align": "left", "baseline": "middle", "dx": -4, "dy": -26},
     "encoding": {"x": {"field": "nm", "type": "quantitative", "scale": {"domain": [377.2, 700], "nice": false, "zero": false}}, "y": {"field": "abs", "type": "quantitative", "scale": {"domain": [-0.021, 0.4], "nice": false, "zero": false}}, "text": {"field": "label", "type": "nominal"}}},
    {"data": {"values": [{"nm": 534.4, "abs": 0.4, "label": "NADH + CORM-3"}]}, "mark": {"type": "text", "fontSize": 18.5, "fontWeight": "bold", "color": "#000", "align": "center", "baseline": "middle", "dy": -13.3},
     "encoding": {"x": {"field": "nm", "type": "quantitative", "scale": {"domain": [377.2, 700], "nice": false, "zero": false}}, "y": {"field": "abs", "type": "quantitative", "scale": {"domain": [-0.021, 0.4], "nice": false, "zero": false}}, "text": {"field": "label", "type": "nominal"}}}
   ]}
]
}
